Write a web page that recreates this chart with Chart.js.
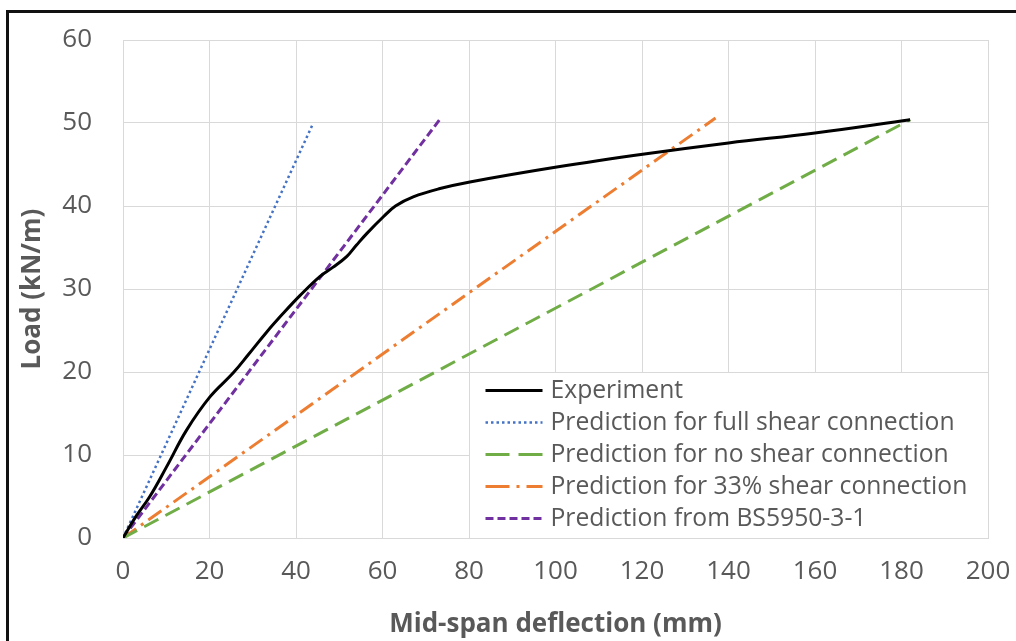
<!DOCTYPE html>
<html>
<head>
<meta charset="utf-8">
<script src="https://cdn.jsdelivr.net/npm/chart.js@4.4.1/dist/chart.umd.min.js"></script>
<style>
  html, body { margin: 0; padding: 0; background: #fff; }
  #wrap { position: relative; width: 1016px; height: 641px; }
</style>
</head>
<body>
<div id="wrap"><canvas id="c" width="1016" height="641"></canvas></div>
<script>
// ---- Data ----
const xTicks = [0, 20, 40, 60, 80, 100, 120, 140, 160, 180, 200];
const yTicks = [0, 10, 20, 30, 40, 50, 60];

const experimentX = [0, 3, 6.2, 10.1, 14.7, 20.1, 25.5, 29, 33.2, 37.1, 40.9, 45.5, 48.5, 51.7, 54, 56.4, 60.2, 63, 67.1, 73.3, 80.2, 100.3, 121, 140, 160, 182];
const experimentY = [0, 2.6, 5.0, 8.6, 13.0, 17.0, 19.9, 22.1, 24.8, 27.1, 29.2, 31.5, 32.6, 33.9, 35.3, 36.7, 38.7, 40.0, 41.1, 42.1, 42.9, 44.7, 46.3, 47.6, 48.8, 50.4];

const fullShearX = [0, 44];
const fullShearY = [0, 50];

const noShearX = [0, 182];
const noShearY = [0, 50.4];

const shear33X = [0, 137];
const shear33Y = [0, 50.6];

const bs5950X = [0, 73.5];
const bs5950Y = [0, 50.6];

const labels = [
  'Experiment',
  'Prediction for full shear connection',
  'Prediction for no shear connection',
  'Prediction for 33% shear connection',
  'Prediction from BS5950-3-1'
];

function pts(xs, ys) { return xs.map((x, i) => ({ x: x, y: ys[i] })); }

const TXT = '#595959';
const GRID = '#d9d9d9';
const FONT = "'Open Sans', 'Noto Sans', sans-serif";

const datasets = [
  { label: labels[0], data: pts(experimentX, experimentY), borderColor: '#000000', borderWidth: 3, tension: 0.4, legendDash: [] },
  { label: labels[1], data: pts(fullShearX, fullShearY), borderColor: '#4472C4', borderWidth: 2.5, borderDash: [2.5, 3], legendDash: [2.5, 3] },
  { label: labels[2], data: pts(noShearX, noShearY), borderColor: '#70AD47', borderWidth: 3, borderDash: [16, 8], legendDash: [24, 9] },
  { label: labels[3], data: pts(shear33X, shear33Y), borderColor: '#ED7D31', borderWidth: 3, borderDash: [16, 6, 3, 6], legendDash: [24, 7, 3, 7] },
  { label: labels[4], data: pts(bs5950X, bs5950Y), borderColor: '#7030A0', borderWidth: 3, borderDash: [8, 4], legendDash: [8, 4] }
].map(d => Object.assign({ showLine: true, pointRadius: 0, fill: false, borderCapStyle: 'butt' }, d));

// Legend drawn inside the plot area, with a white box that hides the grid
const innerLegend = {
  id: 'innerLegend',
  afterDatasetsDraw(chart) {
    const ctx = chart.ctx;
    const xs = chart.scales.x, ys = chart.scales.y;
    const left = Math.round(xs.getPixelForValue(80)) + 0.5;
    const right = Math.round(xs.getPixelForValue(200)) + 0.5;
    const top = Math.round(ys.getPixelForValue(20)) + 0.5;
    const bottom = Math.round(ys.getPixelForValue(0)) + 0.5;
    ctx.save();
    ctx.fillStyle = '#ffffff';
    ctx.fillRect(left, top, right - left, bottom - top);
    ctx.strokeStyle = GRID;
    ctx.lineWidth = 1;
    ctx.strokeRect(left, top, right - left, bottom - top);
    const rowY = [390.5, 422.5, 454.5, 486.5, 518.5];
    const x0 = left + 16, x1 = left + 73, tx = left + 81;
    ctx.font = '24.7px ' + FONT;
    ctx.textBaseline = 'middle';
    ctx.textAlign = 'left';
    chart.data.datasets.forEach((ds, i) => {
      const y = rowY[i];
      ctx.beginPath();
      ctx.setLineDash(ds.legendDash || []);
      ctx.strokeStyle = ds.borderColor;
      ctx.lineWidth = ds.borderWidth;
      ctx.lineCap = 'butt';
      ctx.moveTo(x0, y);
      ctx.lineTo(x1, y);
      ctx.stroke();
      ctx.setLineDash([]);
      ctx.fillStyle = TXT;
      ctx.fillText(ds.label, tx, y);
    });
    ctx.restore();
  }
};

// Black frame of the original figure
const frame = {
  id: 'frame',
  afterDraw(chart) {
    const ctx = chart.ctx;
    ctx.save();
    ctx.fillStyle = '#111111';
    ctx.fillRect(6, 10, 1010, 3);
    ctx.fillRect(6, 10, 3, 631);
    ctx.restore();
  }
};

new Chart(document.getElementById('c'), {
  type: 'scatter',
  data: { datasets: datasets },
  plugins: [innerLegend, frame],
  options: {
    responsive: false,
    animation: false,
    devicePixelRatio: 1,
    layout: { padding: { left: 0, right: 28, top: 40, bottom: 0 } },
    plugins: { legend: { display: false }, tooltip: { enabled: false } },
    scales: {
      x: {
        type: 'linear',
        min: xTicks[0], max: xTicks[xTicks.length - 1],
        afterBuildTicks(s) { s.ticks = xTicks.map(v => ({ value: v })); },
        afterFit(s) { s.height = 103; s.paddingLeft = 0; s.paddingRight = 0; },
        grid: { color: GRID, drawTicks: false, lineWidth: 1 },
        border: { color: GRID },
        ticks: { color: TXT, font: { family: FONT, size: 26 }, padding: 18, maxRotation: 0 },
        title: { display: true, text: 'Mid-span deflection (mm)', color: TXT, font: { family: FONT, size: 26, weight: 'bold' }, padding: { top: 0, bottom: 1 } }
      },
      y: {
        type: 'linear',
        min: yTicks[0], max: yTicks[yTicks.length - 1],
        afterBuildTicks(s) { s.ticks = yTicks.map(v => ({ value: v })); },
        afterFit(s) { s.width = 123; s.paddingTop = 0; s.paddingBottom = 0; },
        grid: { color: GRID, drawTicks: false, lineWidth: 1 },
        border: { color: GRID },
        ticks: { color: TXT, font: { family: FONT, size: 26 }, padding: 31 },
        title: { display: true, text: 'Load (kN/m)', color: TXT, font: { family: FONT, size: 26, weight: 'bold' }, padding: { top: 17, bottom: 0 } }
      }
    }
  }
});
</script>
</body>
</html>
